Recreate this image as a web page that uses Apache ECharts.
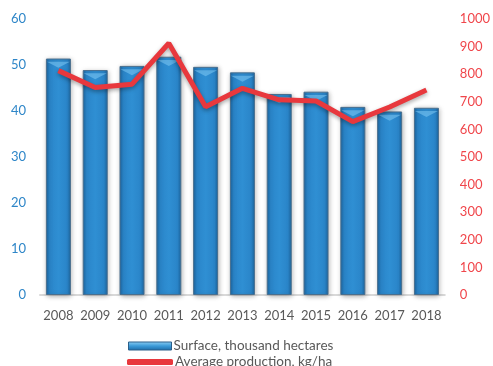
<!DOCTYPE html>
<html><head><meta charset="utf-8">
<script src="https://cdn.jsdelivr.net/npm/echarts@6/dist/echarts.min.js"></script>
<style>html,body{margin:0;padding:0;background:#fff}#c{width:493px;height:366px}</style>
</head><body><div id="c"></div>
<script>
const years = ['2008','2009','2010','2011','2012','2013','2014','2015','2016','2017','2018'];
const surface = [51.4, 48.9, 49.8, 51.8, 49.6, 48.4, 43.7, 44.2, 40.9, 39.9, 40.7];
const production = [813, 752, 764, 912, 682, 749, 707, 703, 628, 681, 743];
const leftTicks = [0, 60, 10];
const rightTicks = [0, 1000, 100];
const seriesNames = ['Surface, thousand hectares', 'Average production, kg/ha'];

const chart = echarts.init(document.getElementById('c'));
const font = 'Lato, "Open Sans", sans-serif';
const legendText = {color: '#595959', fontSize: 13.5, fontFamily: font, padding: [0,0,0,-3]};
chart.setOption({
  animation: false,
  grid: {left: 40, right: 46, top: 19, bottom: 71},
  legend: [
    {left: 123, top: 334, itemWidth: 43, itemHeight: 8, textStyle: legendText,
     data: [{name: seriesNames[0], icon: 'rect',
       itemStyle: {color: {type:'linear',x:0,y:0,x2:0,y2:1,colorStops:[{offset:0,color:'#8fd0f5'},{offset:0.5,color:'#3b9ad8'},{offset:1,color:'#1c6aa6'}]}, borderColor:'#2a5f8a', borderWidth:1}}]},
    {left: 122, top: 350, itemWidth: 46, itemHeight: 6, textStyle: legendText,
     data: [{name: seriesNames[1], icon: 'roundRect', itemStyle: {color: '#e8383d'}}]}
  ],
  xAxis: {
    type: 'category', data: years,
    axisLine: {lineStyle: {color: '#d9d9d9', width: 2}},
    axisTick: {show: false},
    axisLabel: {color: '#595959', fontSize: 13, fontFamily: font, margin: 14, interval: 0}
  },
  yAxis: [
    {type: 'value', min: leftTicks[0], max: leftTicks[1], interval: leftTicks[2],
     splitLine: {show: false}, axisLine: {show: false}, axisTick: {show: false},
     axisLabel: {color: '#2e86c8', fontSize: 13, fontFamily: font, margin: 14}},
    {type: 'value', min: rightTicks[0], max: rightTicks[1], interval: rightTicks[2],
     splitLine: {show: false}, axisLine: {show: false}, axisTick: {show: false},
     axisLabel: {color: '#f0464b', fontSize: 13, fontFamily: font, margin: 15, formatter: v => String(v)}}
  ],
  series: [
    {name: seriesNames[0], type: 'bar', data: surface, barWidth: 25, yAxisIndex: 0,
     itemStyle: {
       color: {type:'linear',x:0,y:0,x2:1,y2:0,colorStops:[
         {offset:0,color:'#1b65a0'},{offset:0.15,color:'#2a85c9'},{offset:0.5,color:'#2f8fd3'},{offset:0.85,color:'#2a85c9'},{offset:1,color:'#1b65a0'}]},
       borderColor: '#4a6f8e', borderWidth: 1,
       shadowBlur: 5, shadowColor: 'rgba(0,0,0,0.3)', shadowOffsetX: 1, shadowOffsetY: 1
     }},
    {name: seriesNames[0], type: 'pictorialBar', data: surface, yAxisIndex: 0,
     symbol: 'triangle', symbolRotate: 180, symbolSize: [23, 6], symbolPosition: 'end',
     symbolOffset: [0, '55%'], z: 3, silent: true,
     itemStyle: {color: 'rgba(120,195,240,0.6)'}},
    {name: seriesNames[1], type: 'line', data: production, yAxisIndex: 1,
     symbol: 'none', z: 5,
     lineStyle: {color: '#e8383d', width: 5, shadowBlur: 4, shadowColor: 'rgba(0,0,0,0.35)', shadowOffsetY: 2},
     itemStyle: {color: '#e8383d'}}
  ]
});
</script></body></html>
